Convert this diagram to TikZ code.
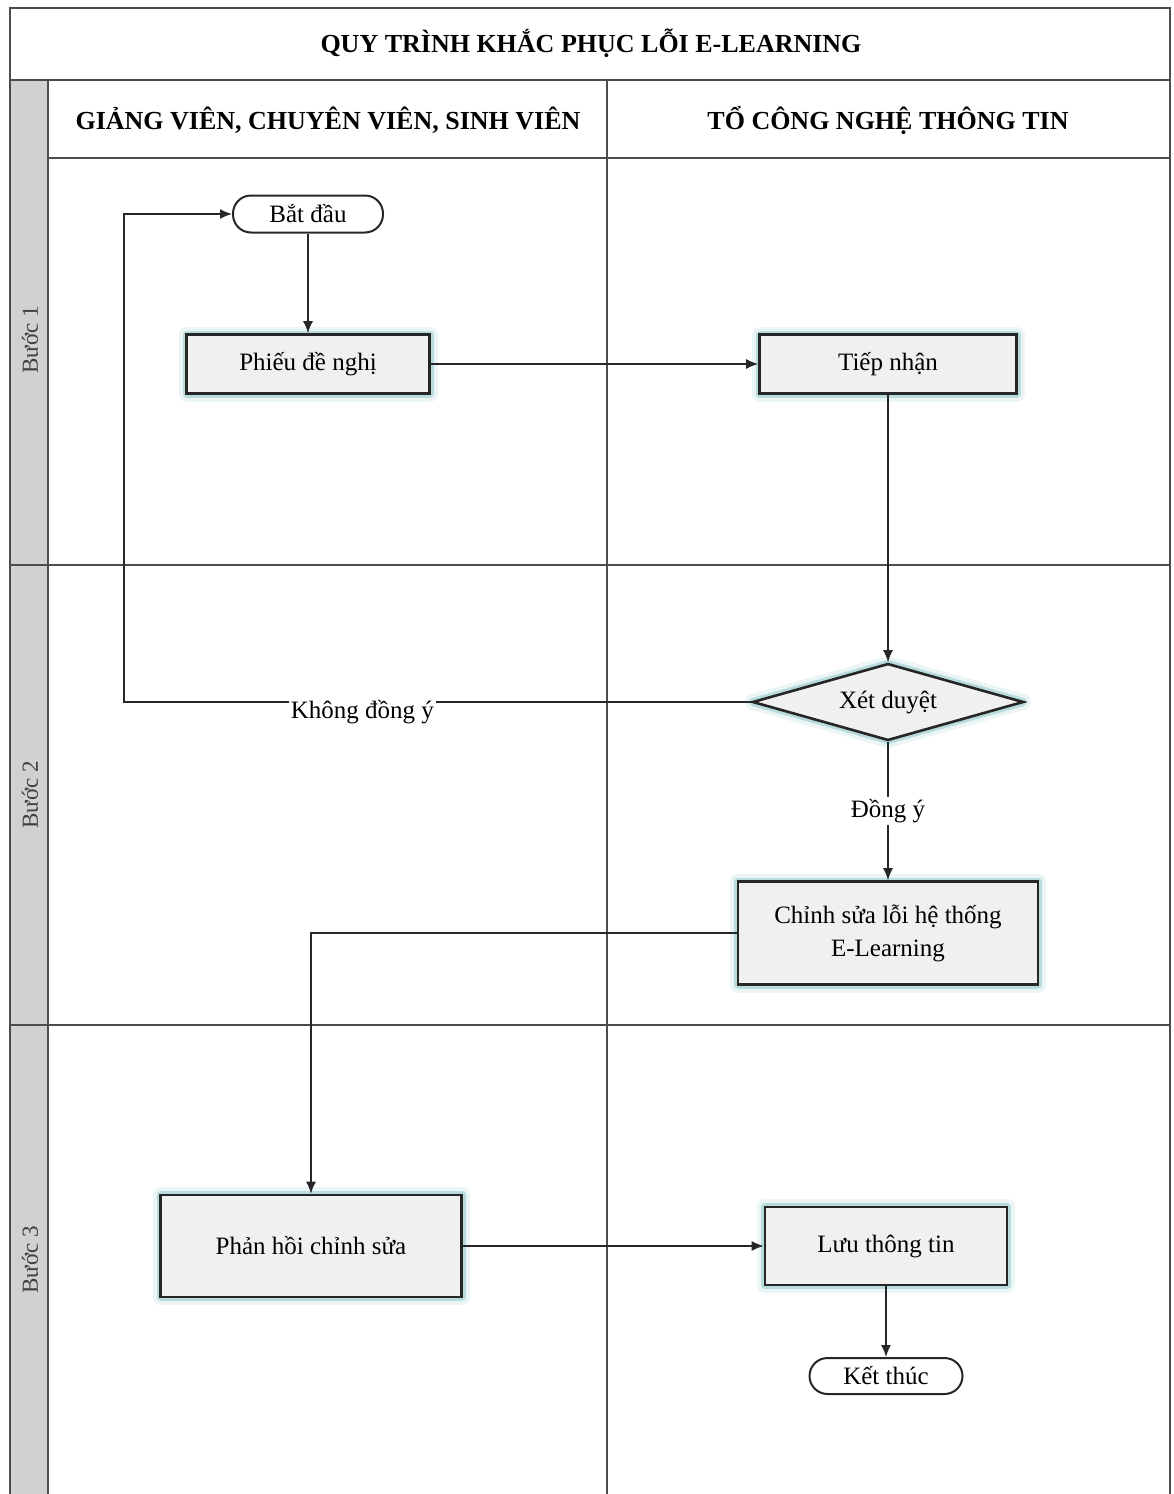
\documentclass[tikz,border=0pt]{standalone}
\usepackage{fontspec}
\setmainfont{Liberation Serif}
\usepackage{tikz}
\usetikzlibrary{positioning,shapes.geometric,arrows.meta}
\tikzset{
    process-box/.style = {draw=black!85, fill=black!6, line width=1.3pt, rectangle, inner sep=2pt, align=center,
        font=\fontsize{12.5}{16.5}\selectfont,
        preaction={draw=teal!8, line width=8pt, line join=round},
        preaction={draw=teal!28, line width=4pt, line join=round}},
    decision-box/.style = {process-box, diamond, aspect=3.5, inner sep=0pt},
    terminal-box/.style = {draw=black!85, fill=white, line width=1pt, rectangle, rounded corners=9pt, font=\fontsize{12.5}{14}\selectfont},
    header-text/.style = {font=\bfseries\fontsize{13}{15}\selectfont},
    lane-label/.style = {rotate=90, text=black!75, font=\fontsize{11.5}{13}\selectfont},
    edge-label/.style = {fill=white, inner sep=1pt, font=\fontsize{12.5}{14}\selectfont},
    flow-arrow/.style = {draw=black!85, line width=0.8pt, -{Latex[length=6pt,width=5pt]}},
    lane-line/.style = {draw=black!70, line width=0.7pt},
}
\begin{document}
\begin{tikzpicture}[x=0.5pt, y=-0.5pt]
\useasboundingbox (0,0) rectangle (1173,1494);
% lanes
\fill[black!18] (10,80) rectangle (48,1494);
\draw[lane-line] (10,1494) -- (10,8) -- (1170,8) -- (1170,1494);
\draw[lane-line] (10,80) -- (1170,80);
\draw[lane-line] (48,80) -- (48,1494);
\draw[lane-line] (48,158) -- (1170,158);
\draw[lane-line, line width=1.2pt] (607,80) -- (607,1494);
\draw[lane-line] (10,565) -- (1170,565);
\draw[lane-line] (10,1025) -- (1170,1025);

\node[header-text] (title) at (591,43) {QUY TRÌNH KHẮC PHỤC LỖI E-LEARNING};
\node[header-text] (users) at (328,120) {GIẢNG VIÊN, CHUYÊN VIÊN, SINH VIÊN};
\node[header-text] (itteam) at (888,120) {TỔ CÔNG NGHỆ THÔNG TIN};

\node[lane-label] (step1) at (30,340) {Bước 1};
\node[lane-label] (step2) at (30,795) {Bước 2};
\node[lane-label] (step3) at (30,1260) {Bước 3};

% nodes
\node[terminal-box, minimum width=75pt, minimum height=18.5pt] (start) at (308,214) {Bắt đầu};
\node[process-box, minimum width=121.5pt, minimum height=29.5pt] (request) at (308,364) {Phiếu đề nghị};
\node[process-box, minimum width=128.5pt, minimum height=29.5pt] (receive) at (888,364) {Tiếp nhận};
\node[decision-box, minimum width=135.5pt, minimum height=38.5pt] (review) at (888,702) {Xét duyệt};
\node[process-box, minimum width=150pt, minimum height=51.5pt] (fix) at (888,933) {Chỉnh sửa lỗi hệ thống\\E-Learning};
\node[process-box, minimum width=150.5pt, minimum height=51pt] (feedback) at (311,1246) {Phản hồi chỉnh sửa};
\node[process-box, minimum width=121pt, minimum height=39pt] (store) at (886,1246) {Lưu thông tin};
\node[terminal-box, minimum width=76.5pt, minimum height=18pt] (finish) at (886,1376) {Kết thúc};
\coordinate (loop-corner) at (124,702);

% connectors
\draw[flow-arrow] (start) -- (request);
\draw[flow-arrow] (request) -- (receive);
\draw[flow-arrow] (receive) -- (review);
\draw[flow-arrow] (review.west) -- node[edge-label, pos=0.62, yshift=-5pt] {Không đồng ý} (loop-corner) |- (start.west);
\draw[flow-arrow] (review) -- node[edge-label] {Đồng ý} (fix);
\draw[flow-arrow] (fix.west) -| (feedback.north);
\draw[flow-arrow] (feedback) -- (store);
\draw[flow-arrow] (store) -- (finish);
\end{tikzpicture}
\end{document}
